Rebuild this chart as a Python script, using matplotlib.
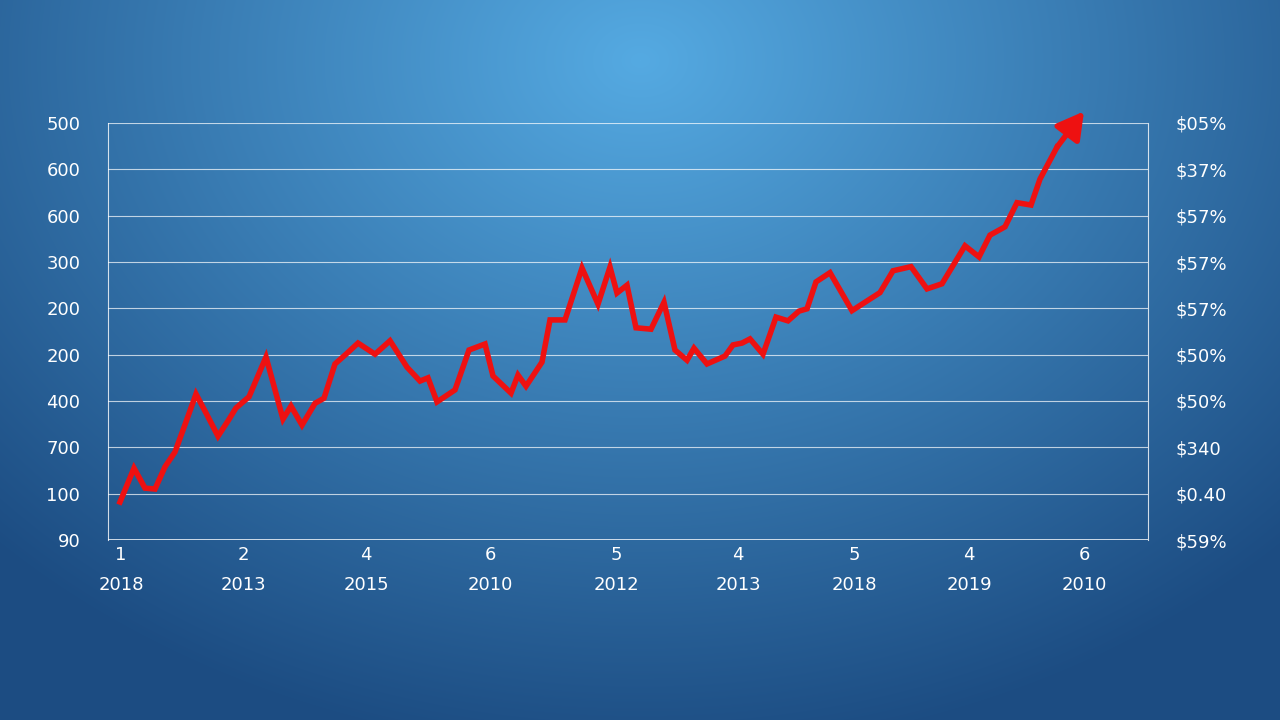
import numpy as np
import matplotlib
matplotlib.use("Agg")
import matplotlib.pyplot as plt

left_labels = ["90", "100", "700", "400", "200", "200", "300", "600", "600", "500"]
right_labels = ["$59%", "$0.40", "$340", "$50%", "$50%", "$57%", "$57%", "$57%", "$37%", "$05%"]
xtick_pos = [121, 243, 366, 490, 616, 738, 854, 969, 1084]
xtick_labels = ["1\n2018", "2\n2013", "4\n2015", "6\n2010", "5\n2012", "4\n2013", "5\n2018", "4\n2019", "6\n2010"]

series_x = [120,134,145,155,165,175,186,196,207,218,228,236,249,266,283,291,302,315,324,335,346,358,375,390,407,420,428,437,455,469,485,493,511,518,526,542,550,565,582,598,610,617,627,636,651,664,675,687,694,707,725,733,742,750,763,776,788,799,807,816,830,852,880,893,911,927,942,965,979,990,1005,1017,1031,1040,1057]
series_y = [0.82,1.55,1.12,1.10,1.58,1.90,2.55,3.15,2.70,2.24,2.57,2.85,3.09,3.95,2.61,2.89,2.48,2.95,3.06,3.80,4.01,4.25,4.01,4.30,3.73,3.43,3.50,2.98,3.24,4.10,4.23,3.54,3.17,3.56,3.32,3.84,4.75,4.75,5.87,5.09,5.89,5.33,5.50,4.58,4.55,5.13,4.10,3.88,4.14,3.80,3.97,4.21,4.25,4.34,4.01,4.81,4.73,4.94,4.99,5.57,5.77,4.95,5.34,5.81,5.90,5.42,5.53,6.35,6.11,6.58,6.76,7.28,7.23,7.79,8.48]
arrow_tip = (1084, 9.25)

fig = plt.figure(figsize=(12.8, 7.2), dpi=100)
bg = fig.add_axes([0, 0, 1, 1])
yy, xx = np.mgrid[0:720, 0:1280]
d = np.sqrt(((xx - 640) / 900) ** 2 + ((yy - 60) / 700) ** 2)
d = np.clip(d, 0, 1)
c0 = np.array([0x55, 0xaa, 0xe2]) / 255
c1 = np.array([0x1c, 0x4c, 0x82]) / 255
img = c0[None, None, :] * (1 - d[..., None]) + c1[None, None, :] * d[..., None]
bg.imshow(img, aspect="auto", extent=[0, 1280, 720, 0])
bg.axis("off")

ax = fig.add_axes([108/1280, 1-540/720, (1148-108)/1280, (540-123)/720])
ax.set_facecolor("none")
ax.set_xlim(108, 1148)
ax.set_ylim(0, 9)
for i in range(10):
    ax.axhline(i, color="white", lw=0.8, alpha=0.7)
ax.axhline(0, color="white", lw=1.8)
ax.spines["top"].set_visible(False)
ax.spines["bottom"].set_visible(False)
for s in ["left", "right"]:
    ax.spines[s].set_color("white"); ax.spines[s].set_linewidth(0.8); ax.spines[s].set_alpha(0.8)
ax.set_yticks(range(10))
ax.set_yticklabels(left_labels, color="white", fontsize=13)
ax.tick_params(axis="y", length=0, pad=20)
ax2 = ax.twinx()
ax2.set_ylim(0, 9)
ax2.set_yticks(range(10))
ax2.set_yticklabels(right_labels, color="white", fontsize=13)
ax2.tick_params(axis="y", length=0, pad=20)
for s in ax2.spines.values():
    s.set_visible(False)
ax.set_xticks(xtick_pos)
ax.set_xticklabels(xtick_labels, color="white", fontsize=13, linespacing=1.9)
ax.tick_params(axis="x", length=0, pad=4)

ax.plot(series_x, series_y, color="#ee1111", lw=4, solid_joinstyle="miter", zorder=5)
ax.annotate("", xy=arrow_tip, xytext=(series_x[-1], series_y[-1]), annotation_clip=False,
            arrowprops=dict(arrowstyle="-|>,head_length=1.6,head_width=0.9", color="#ee1111", lw=4, shrinkA=0, shrinkB=0), zorder=6)
fig.savefig("out.png", dpi=100)
